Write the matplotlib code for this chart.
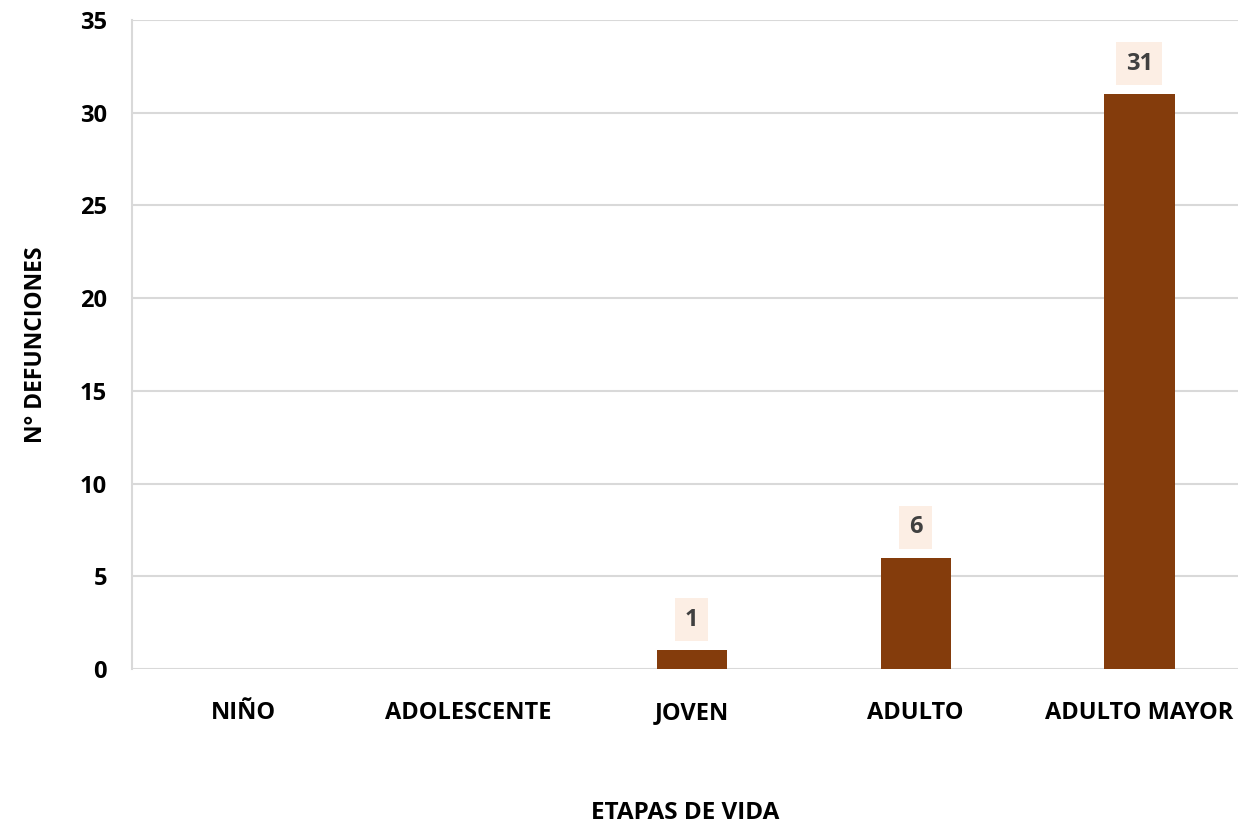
import matplotlib.pyplot as plt

categorias = ['NIÑO', 'ADOLESCENTE', 'JOVEN', 'ADULTO', 'ADULTO MAYOR']
defunciones = [0, 0, 1, 6, 31]

plt.rcParams['font.family'] = ['Open Sans', 'DejaVu Sans']
plt.rcParams['font.weight'] = 'bold'

fig = plt.figure(figsize=(12.38, 8.23), dpi=100)
ax = fig.add_axes([0.1066, 0.1871, 0.8934, 0.7886])

x = range(len(categorias))
bars = ax.bar(x, defunciones, width=0.313, color='#843C0C', zorder=3)

for xi, v in zip(x, defunciones):
    if v > 0:
        ax.annotate(str(v), (xi, v), xytext=(0, 22), textcoords='offset points',
                    ha='center', va='center', fontsize=17, fontweight='bold',
                    color='#404040',
                    bbox=dict(boxstyle='square,pad=0.4', facecolor='#FCEEE4',
                              edgecolor='none'))

ax.set_xlim(-0.5, 4.44)
ax.set_ylim(0, 35)
ax.set_yticks(range(0, 36, 5))
ax.set_xticks(list(x))
ax.set_xticklabels(categorias)
ax.tick_params(axis='both', length=0, labelsize=17)
ax.tick_params(axis='x', pad=23)
ax.tick_params(axis='y', pad=18)
ax.grid(axis='y', color='#D9D9D9', linewidth=1.5, zorder=0)
for s in ['top', 'right', 'bottom']:
    ax.spines[s].set_visible(False)
ax.spines['left'].set_color('#D9D9D9')
ax.spines['left'].set_linewidth(1.5)

ax.set_xlabel('ETAPAS DE VIDA', fontsize=17.5, fontweight='bold', labelpad=55)
ax.set_ylabel('N° DEFUNCIONES', fontsize=16.5, fontweight='bold', labelpad=23)

fig.savefig('out.png', dpi=100)
